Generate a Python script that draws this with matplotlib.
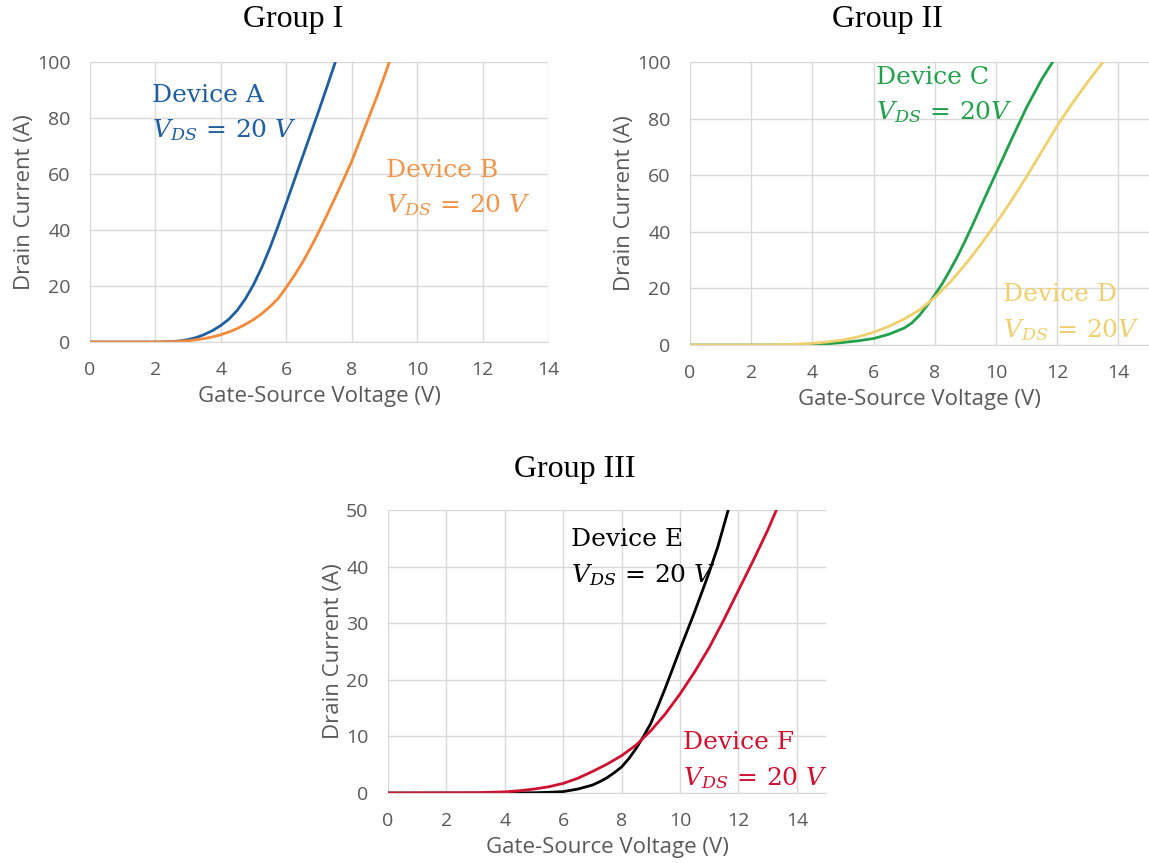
"""Transfer characteristics (Id vs Vgs) of six devices, in three groups."""

import matplotlib
matplotlib.use("Agg")
import matplotlib.pyplot as plt

plt.rcParams["mathtext.fontset"] = "dejavuserif"

# ------------------------------------------------------------------
# Data
# ------------------------------------------------------------------
vgs_a = [0, 1, 2, 2.25, 2.5, 2.75, 3, 3.25, 3.5, 3.75, 4, 4.25, 4.5, 4.75,
         5, 5.25, 5.5, 5.75, 6, 6.25, 6.5, 6.75, 7, 7.25, 7.5]
id_a = [0, 0, 0, 0.05, 0.15, 0.4, 0.85, 1.6, 2.7, 4.1, 5.9, 8.2, 11.3, 15.4,
        20.5, 26.6, 33.6, 41.4, 49.6, 57.9, 66.2, 74.5, 82.8, 91.3, 100]

vgs_b = [0, 1, 2, 2.5, 2.75, 3, 3.25, 3.5, 3.75, 4, 4.25, 4.5, 4.75, 5,
         5.25, 5.5, 5.75, 6, 6.25, 6.5, 6.75, 7, 7.25, 7.5, 7.75, 8, 8.25,
         8.5, 8.75, 9, 9.15]
id_b = [0, 0, 0, 0.1, 0.25, 0.45, 0.8, 1.25, 1.85, 2.6, 3.6, 4.8, 6.3, 8.0,
        10.1, 12.6, 15.5, 19.5, 23.8, 28.5, 33.8, 39.5, 45.5, 51.7, 58, 64.5,
        72, 79.5, 87, 95, 100]

vgs_c = [0, 2, 3, 3.5, 4, 4.5, 5, 5.5, 6, 6.5, 7, 7.25, 7.5, 7.75, 8, 8.25,
         8.5, 8.75, 9, 9.25, 9.5, 9.75, 10, 10.5, 11, 11.5, 11.85]
id_c = [0, 0, 0, 0.1, 0.2, 0.45, 0.9, 1.5, 2.3, 3.8, 6, 7.8, 10.5, 14, 17.7,
        21.8, 26.5, 31.5, 37, 42.8, 48.8, 54.8, 60.7, 72.5, 84, 94, 100]

vgs_d = [0, 2, 3, 3.5, 4, 4.5, 5, 5.5, 6, 6.5, 7, 7.5, 8, 8.5, 9, 9.5, 10,
         10.5, 11, 11.5, 12, 12.5, 13, 13.5]
id_d = [0, 0, 0.15, 0.3, 0.6, 1.1, 1.8, 2.9, 4.5, 6.6, 9.2, 12.4, 16.8, 22.2,
        28.5, 35.5, 43, 51, 59.5, 68.5, 77.5, 85.5, 93, 100]

vgs_e = [0, 4, 5, 5.5, 6, 6.5, 7, 7.25, 7.5, 7.75, 8, 8.25, 8.5, 8.75, 9,
         9.25, 9.5, 9.75, 10, 10.5, 11, 11.3, 11.65]
id_e = [0, 0, 0.05, 0.12, 0.25, 0.7, 1.4, 2.0, 2.7, 3.6, 4.6, 6.1, 7.9, 10,
        12.3, 15.4, 18.6, 22, 25.4, 32, 39, 43.6, 50]

vgs_f = [0, 3, 4, 4.5, 5, 5.5, 6, 6.5, 7, 7.5, 8, 8.5, 9, 9.5, 10, 10.5, 11,
         11.5, 12, 12.5, 13, 13.3]
id_f = [0, 0.05, 0.2, 0.4, 0.7, 1.1, 1.7, 2.6, 3.8, 5.1, 6.6, 8.5, 11, 14.0,
        17.5, 21.4, 25.7, 30.6, 35.8, 41, 46.4, 50]

x_ticks = [0, 2, 4, 6, 8, 10, 12, 14]
y_ticks_100 = [0, 20, 40, 60, 80, 100]
y_ticks_50 = [0, 10, 20, 30, 40, 50]

# ------------------------------------------------------------------
# Style
# ------------------------------------------------------------------
GRID = "#d9d9d9"
TEXT = "#595959"
SANS = ["Open Sans", "DejaVu Sans"]
SERIF_TITLE = "Liberation Serif"
SERIF_NOTE = "DejaVu Serif"


def style_axes(ax, xmax, ymax, yticks):
    ax.set_xlim(0, xmax)
    ax.set_ylim(0, ymax)
    ax.set_xticks(x_ticks)
    ax.set_yticks(yticks)
    ax.grid(True, color=GRID, linewidth=1.0)
    ax.set_axisbelow(True)
    for name, spine in ax.spines.items():
        spine.set_visible(name == "bottom")
    ax.spines["bottom"].set_color(GRID)
    ax.tick_params(length=0, colors=TEXT, labelsize=14)
    ax.tick_params(axis="x", pad=13.5)
    ax.tick_params(axis="y", pad=14)
    for lab in ax.get_xticklabels() + ax.get_yticklabels():
        lab.set_family(SANS)
    ax.set_xlabel("Gate-Source Voltage (V)", color=TEXT, fontsize=16,
                  family=SANS, labelpad=5)
    ax.set_ylabel("Drain Current (A)", color=TEXT, fontsize=16,
                  family=SANS, labelpad=1.5)


def note(ax, x, y, name, vds, color):
    ax.text(x, y, name, transform=ax.transAxes, color=color, fontsize=18,
            family=SERIF_NOTE, ha="left", va="center")
    ax.text(x, y - 0.125, vds, transform=ax.transAxes, color=color,
            fontsize=18, family=SERIF_NOTE, ha="left", va="center")


fig = plt.figure(figsize=(11.49, 8.63), dpi=100)

# Group I
ax1 = fig.add_axes([0.0783, 0.6037, 0.3986, 0.3244])
ax1.plot(vgs_a, id_a, color="#1F5F9F", linewidth=2)
ax1.plot(vgs_b, id_b, color="#F28A3A", linewidth=2)
style_axes(ax1, 14, 100, y_ticks_100)
note(ax1, 0.135, 0.882, "Device A", r"$V_{DS}\,=\,20\ V$", "#1F5F9F")
note(ax1, 0.646, 0.614, "Device B", r"$V_{DS}\,=\,20\ V$", "#F0954A")

# Group II
ax2 = fig.add_axes([0.6005, 0.6002, 0.3995, 0.3279])
ax2.plot(vgs_c, id_c, color="#22A04B", linewidth=2)
ax2.plot(vgs_d, id_d, color="#EFD06E", linewidth=2)
style_axes(ax2, 15, 100, y_ticks_100)
note(ax2, 0.405, 0.947, "Device C", r"$V_{DS}\,=\,20V$", "#22A04B")
note(ax2, 0.682, 0.177, "Device D", r"$V_{DS}\,=\,20V$", "#EFD06E")

# Group III
ax3 = fig.add_axes([0.3377, 0.0811, 0.3812, 0.3279])
ax3.plot(vgs_e, id_e, color="black", linewidth=2)
ax3.plot(vgs_f, id_f, color="#CE1130", linewidth=2)
style_axes(ax3, 15, 50, y_ticks_50)
note(ax3, 0.418, 0.897, "Device E", r"$V_{DS}\,=\,20\ V$", "black")
note(ax3, 0.674, 0.177, "Device F", r"$V_{DS}\,=\,20\ V$", "#CE1130")

# Group titles sit slightly left of the plot centres, as in the source figure
fig.text(0.255, 0.977, "Group I", family=SERIF_TITLE, fontsize=23,
         ha="center", va="center")
fig.text(0.772, 0.977, "Group II", family=SERIF_TITLE, fontsize=23,
         ha="center", va="center")
fig.text(0.5004, 0.4554, "Group III", family=SERIF_TITLE, fontsize=23,
         ha="center", va="center")

fig.savefig("out.png", dpi=100, facecolor="white")
plt.close(fig)
